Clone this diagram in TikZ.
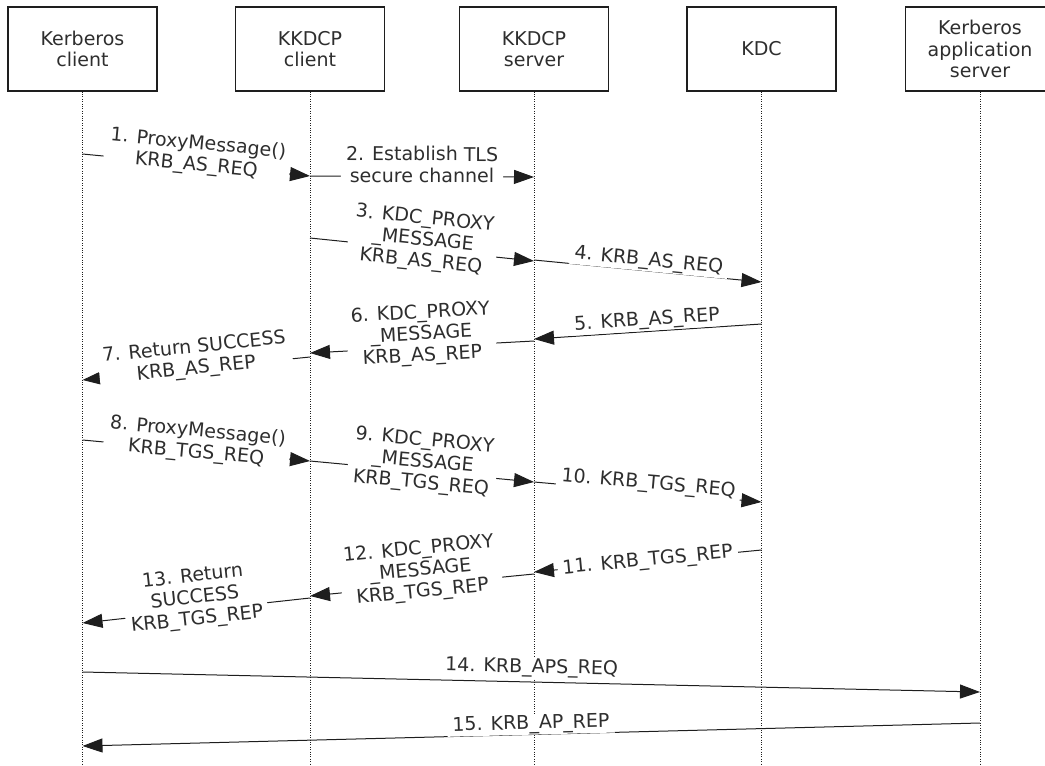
\documentclass[tikz,border=0pt]{standalone}
\usepackage{fontspec}
\setmainfont{DejaVu Sans}
\usetikzlibrary{arrows.meta}
\definecolor{ink}{HTML}{1E1E1E}
\definecolor{txt}{HTML}{2E2E2E}

\begin{document}
\begin{tikzpicture}[x=1pt,y=-1pt,
  font=\fontsize{19}{21.5}\selectfont,
  actor/.style={draw=ink,line width=1.3pt,minimum width=149pt,minimum height=84pt,inner sep=0pt,align=center,text=txt},
  life/.style={draw=ink,line width=1pt,dash pattern=on 1pt off 1.4pt},
  msg/.style={draw=ink,line width=1pt,-{Triangle[length=20pt,width=14pt]}},
  lbl/.style={sloped,fill=white,inner xsep=5pt,inner ysep=1pt,align=center,text=txt}]
  \useasboundingbox (0,0) rectangle (1045,766);
  \clip (0,0) rectangle (1045,766);
  % ---- participants ----
  \node[actor] (kc)  at (82.5,49) {Kerberos\\client};
  \node[actor] (kp)  at (310,49)  {KKDCP\\client};
  \node[actor] (ks)  at (534,49)  {KKDCP\\server};
  \node[actor] (kdc) at (761.5,49){KDC};
  \node[actor] (as)  at (980,49)  {Kerberos\\application\\server};
  \coordinate (bottom) at (0,766);
  % ---- lifelines ----
  \foreach \p in {kc,kp,ks,kdc,as}{
    \draw[life] (\p.south) -- (\p.south |- bottom);
  }
  % ---- messages ----
  \foreach \a/\ya/\b/\yb/\dy/\txt in {
    kc/154/kp/176/10/{1. ProxyMessage()\\KRB\_AS\_REQ},
    kp/176/ks/177/12/{2. Establish TLS\\secure channel},
    kp/238/ks/261/9/{3. KDC\_PROXY\\\_MESSAGE\\KRB\_AS\_REQ},
    ks/260/kdc/282/10/{4. KRB\_AS\_REQ},
    kdc/324/ks/339/11/{5. KRB\_AS\_REP},
    ks/341/kp/353/12/{6. KDC\_PROXY\\\_MESSAGE\\KRB\_AS\_REP},
    kp/357/kc/380/10/{7. Return SUCCESS\\KRB\_AS\_REP},
    kc/440/kp/461/8/{8. ProxyMessage()\\KRB\_TGS\_REQ},
    kp/461/ks/482/9/{9. KDC\_PROXY\\\_MESSAGE\\KRB\_TGS\_REQ},
    ks/482/kdc/502/8/{10. KRB\_TGS\_REQ},
    kdc/550/ks/572/0/{11. KRB\_TGS\_REP},
    ks/574/kp/596/14/{12. KDC\_PROXY\\\_MESSAGE\\KRB\_TGS\_REP},
    kp/598/kc/623/12/{13. Return\\SUCCESS\\KRB\_TGS\_REP},
    kc/672/as/692/14/{14. KRB\_APS\_REQ},
    as/723/kc/746/10/{15. KRB\_AP\_REP}}{
    \draw[msg] (\a |- 0,\ya) -- node[lbl,yshift=\dy pt] {\txt} (\b |- 0,\yb);
  }
\end{tikzpicture}
\end{document}
